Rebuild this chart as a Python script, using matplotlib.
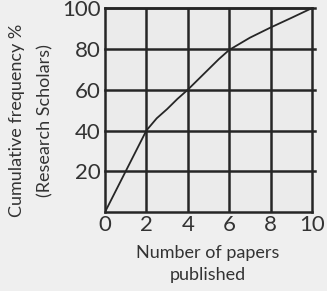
import matplotlib
matplotlib.use("Agg")
import matplotlib.pyplot as plt

# data (ogive curve)
papers = [0, 1, 2, 2.5, 3, 3.5, 4, 4.5, 5, 5.5, 6, 7, 8, 9, 10]
cum_freq = [0, 20, 40, 46, 50.5, 55.5, 60, 65, 70, 75, 79.5, 85.5, 90.5, 95.2, 100]
x_ticks = [0, 2, 4, 6, 8, 10]
y_ticks = [20, 40, 60, 80, 100]

INK = "#262626"
TXT = "#333333"
BG = "#efefef"

plt.rcParams["font.family"] = ["Lato", "DejaVu Sans"]

fig = plt.figure(figsize=(3.27, 2.91), dpi=100, facecolor=BG)
ax = fig.add_axes([0.321, 0.271, 0.633, 0.701])
ax.set_facecolor("#ebebeb")

ax.set_xlim(0, 10)
ax.set_ylim(0, 100)

# grid, horizontal lines run a little past the right border
for y in y_ticks:
    ax.plot([0, 10.15], [y, y], color=INK, lw=1.8, clip_on=False, zorder=1)
for x in x_ticks[1:-1]:
    ax.axvline(x, color=INK, lw=1.8, zorder=1)
for s in ax.spines.values():
    s.set_color(INK)
    s.set_linewidth(1.8)

ax.plot(papers, cum_freq, color=INK, lw=1.3, zorder=3)

ax.set_xticks(x_ticks)
ax.set_yticks(y_ticks)
ax.tick_params(length=0, labelsize=16, colors=TXT, pad=2)
ax.tick_params(axis="y", pad=3)

fig.text(0.052, 0.585, "Cumulative frequency %", rotation=90, ha="center",
         va="center", fontsize=13, color=TXT)
fig.text(0.138, 0.585, "(Research Scholars)", rotation=90, ha="center",
         va="center", fontsize=13, color=TXT)
fig.text(0.635, 0.13, "Number of papers", ha="center", va="center",
         fontsize=13, color=TXT)
fig.text(0.635, 0.055, "published", ha="center", va="center",
         fontsize=13, color=TXT)

fig.savefig("out.png", dpi=100, facecolor=BG)
